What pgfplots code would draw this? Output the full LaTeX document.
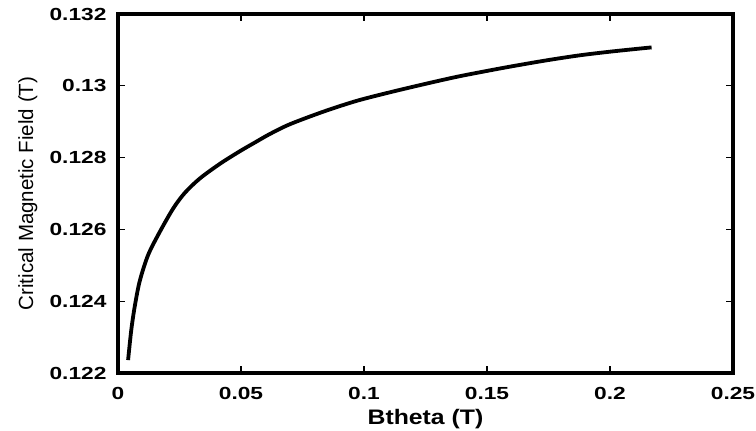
\documentclass[border=0pt]{standalone}
\usepackage{pgfplots}
\pgfplotsset{compat=1.18}
\usepackage{graphicx}
\usepackage{fontspec}
\setmainfont{Liberation Sans}
\newcommand\tl[1]{\scalebox{1.3}[1]{#1}}
\begin{document}
\begin{tikzpicture}
\begin{axis}[
  scale only axis,
  width=615pt, height=359pt,
  xmin=0, xmax=0.25, ymin=0.122, ymax=0.132,
  xtick={0,0.05,0.1,0.15,0.2,0.25},
  xticklabels={\tl{0},\tl{0.05},\tl{0.1},\tl{0.15},\tl{0.2},\tl{0.25}},
  ytick={0.122,0.124,0.126,0.128,0.13,0.132},
  yticklabels={\tl{0.122},\tl{0.124},\tl{0.126},\tl{0.128},\tl{0.13},\tl{0.132}},
  tick align=inside,
  major tick length=7pt,
  every tick/.style={line width=1.2pt, black},
  axis line style={line width=3.5pt},
  ticklabel style={font=\fontsize{17.5}{19}\selectfont\bfseries},
  xticklabel style={yshift=-11pt},
  yticklabel style={xshift=-8pt},
  xlabel={\fontsize{21}{23}\selectfont\bfseries\scalebox{1.18}[1]{Btheta (T)}},
  ylabel={\fontsize{20.5}{22}\selectfont Critical Magnetic Field (T)},
  xlabel style={at={(axis description cs:0.5,0)}, anchor=base, yshift=-52pt},
  ylabel style={at={(axis description cs:-0.1382,0.5)}, anchor=base, rotate=0},
]
\addplot[black, line width=3.8pt, smooth, tension=0.5] table {
0.0041 0.12236
0.0054 0.12320
0.0068 0.12385
0.0088 0.12455
0.0122 0.12528
0.0169 0.12592
0.0225 0.12659
0.0272 0.12702
0.0333 0.12742
0.0415 0.12783
0.0496 0.12818
0.0564 0.12845
0.0618 0.12866
0.0699 0.12893
0.0835 0.12928
0.0970 0.12958
0.1106 0.12982
0.1241 0.13004
0.1377 0.13025
0.1512 0.13043
0.1607 0.13055
0.1743 0.13071
0.1878 0.13085
0.2013 0.13096
0.2169 0.13107
};
\end{axis}
\pgfresetboundingbox
\path (current axis.south west) ++(-118pt,-58pt) rectangle ++(756pt,431pt);
\end{tikzpicture}
\end{document}
